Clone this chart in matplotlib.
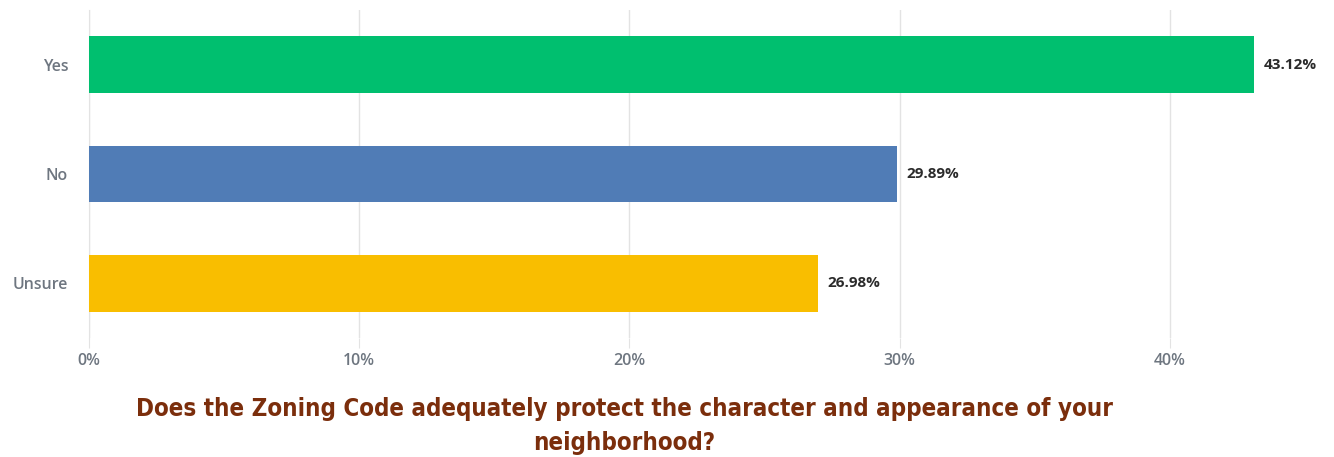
import matplotlib
matplotlib.use('Agg')
from matplotlib import pyplot as plt

# survey answers and their share of responses (%)
answers = ['Yes', 'No', 'Unsure']
shares = [43.12, 29.89, 26.98]
bar_colours = ['#00BF6F', '#507CB6', '#F9BE00']
tick_values = [0, 10, 20, 30, 40]
tick_labels = ['0%', '10%', '20%', '30%', '40%']
question = 'Does the Zoning Code adequately protect the character and appearance of your\nneighborhood?'

plt.rcParams['font.family'] = ['Open Sans', 'DejaVu Sans']

fig = plt.figure(figsize=(13.34, 4.57), dpi=100)
ax = fig.add_axes([89 / 1334, 1 - 338 / 457, (1305 - 89) / 1334, (338 - 10) / 457])

pos = list(range(len(answers)))
ax.barh(pos, shares, height=0.52, color=bar_colours, zorder=3)
for p, v in zip(pos, shares):
    ax.text(v + 0.35, p, f'{v:.2f}%', va='center', ha='left', fontsize=11,
            color='#2b2b2b', fontweight='bold')

ax.set_xlim(0, 45)
ax.set_ylim(2.5, -0.5)
ax.set_yticks(pos)
ax.set_yticklabels(answers, fontweight='semibold')
ax.set_xticks(tick_values)
ax.set_xticklabels(tick_labels, fontweight='semibold')
ax.grid(axis='x', color='#e3e3e3', linewidth=1, zorder=0)
for s in ['top', 'right', 'bottom']:
    ax.spines[s].set_visible(False)
ax.spines['left'].set_color('#e3e3e3')
ax.tick_params(axis='x', length=7, color='#e3e3e3', labelcolor='#6e7680',
               labelsize=11.5, pad=4)
ax.tick_params(axis='y', length=0, labelcolor='#6e7680', labelsize=11.5, pad=15)

fig.text(624 / 1334, 1 - 426 / 457, question, ha='center', va='center',
         fontsize=17.3, fontweight='bold', fontstretch='condensed', color='#7B2E0C',
         linespacing=1.52, family=['DejaVu Sans'])

fig.savefig('out.png', dpi=100)
